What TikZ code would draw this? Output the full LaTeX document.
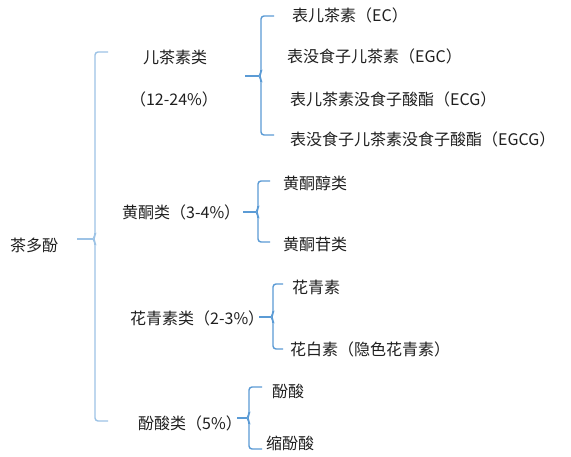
\documentclass[tikz,border=0pt]{standalone}
\usepackage{fontspec}
\setmainfont{Noto Sans CJK SC}
\definecolor{bluedark}{RGB}{91,155,213}
\definecolor{bluelight}{RGB}{157,195,230}
\newcommand{\bracepath}[7]{% color, xs, xv, xt, yt, ym, yb
  \coordinate (s#1) at (#2,#6);
  \coordinate (t#1) at (#4,#5);
  \coordinate (b#1) at (#4,#7);
  \draw[brace, #1] (s#1) -- (#3-2,#6);
  \draw[brace, #1, rounded corners=3pt] (t#1) -- (#3,#5) -- (#3,#6-3) -- (#3-2,#6) -- (#3,#6+3) -- (#3,#7) -- (b#1);
}
\begin{document}
\begin{tikzpicture}[x=1pt,y=-1pt,
  brace/.style={line width=1.4pt},
  lbl/.style={inner sep=0pt, font=\fontsize{16}{19}\selectfont, text=black!88}]
\useasboundingbox (0,0) rectangle (571,456);
\fill[white] (0,0) rectangle (571,456);
% texts
\node[lbl, anchor=west] (root) at (10,245) {茶多酚};
\node[lbl] (cat) at (175,57) {儿茶素类};
\node[lbl] (catp) at (174,99) {（12-24\%）};
\node[lbl, anchor=west] (fla) at (122,212) {黄酮类（3-4\%）};
\node[lbl, anchor=west] (ant) at (130,318) {花青素类（2-3\%）};
\node[lbl, anchor=west] (phe) at (138,423) {酚酸类（5\%）};
\node[lbl, anchor=west] (ec) at (292,15) {表儿茶素（EC）};
\node[lbl, anchor=west] (egc) at (287,56) {表没食子儿茶素（EGC）};
\node[lbl, anchor=west] (ecg) at (290,99) {表儿茶素没食子酸酯（ECG）};
\node[lbl, anchor=west] (egcg) at (290,139) {表没食子儿茶素没食子酸酯（EGCG）};
\node[lbl, anchor=west] (flo) at (283,183) {黄酮醇类};
\node[lbl, anchor=west] (flg) at (283,244) {黄酮苷类};
\node[lbl, anchor=west] (hqs) at (292,287) {花青素};
\node[lbl, anchor=west] (hbs) at (290,349) {花白素（隐色花青素）};
\node[lbl, anchor=west] (fs) at (272,391) {酚酸};
\node[lbl, anchor=west] (sfs) at (266,443) {缩酚酸};
% braces
\bracepath{bluelight}{77}{95}{108}{52}{239}{421}
\bracepath{bluedark}{245}{261}{274}{16}{76}{135}
\bracepath{bluedark}{243}{258}{270}{181}{212}{242}
\bracepath{bluedark}{259}{273}{283}{284}{317}{349}
\bracepath{bluedark}{237}{249}{262}{387}{418}{449}
\end{tikzpicture}
\end{document}
